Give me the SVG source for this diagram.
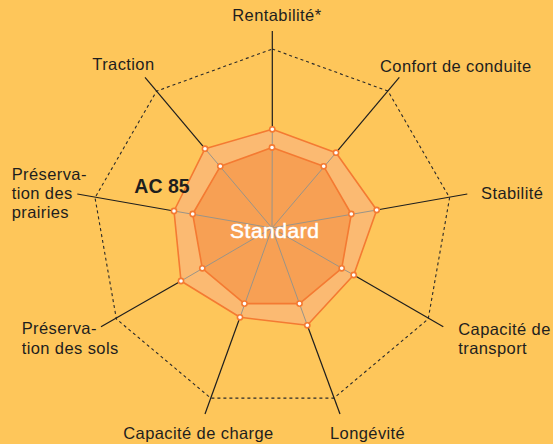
<svg xmlns="http://www.w3.org/2000/svg" width="553" height="444" viewBox="0 0 553 444">
<style>
.lbl{font-family:"Liberation Sans",Arial,sans-serif;font-size:16.5px;letter-spacing:0.4px;fill:#1e1e1e}
.dash{fill:none;stroke:#2a2a2a;stroke-width:1.1;stroke-dasharray:3 3}
.lead{stroke:#1e1e1e;stroke-width:1.2;fill:none}
.axis{stroke:#9a9488;stroke-width:1;fill:none}
.dot{fill:#ffffff;stroke:#f47a32;stroke-width:1.6}
</style>
<rect width="553" height="444" fill="#fec65a"/>
<g id="grid">
<polygon class="dash" points="272.3,49 388,91.1 449.6,197.7 428.2,319 333.9,398.1 210.7,398.1 116.4,319 95,197.7 156.6,91.1"/>
</g>
<g id="series-ac85">
<polygon fill="#fbba72" stroke="#f47a32" stroke-width="1.6" stroke-linejoin="round" points="272.3,129.3 336,152.7 376.7,210 353.7,275 307.3,325.3 240,317.3 181,281 174,211 205,148.7"/>
</g>
<g id="series-standard">
<polygon fill="#f7a054" stroke="#f47a32" stroke-width="1.6" stroke-linejoin="round" points="272,147.5 323.7,166.3 351.3,214 341.7,268.3 299.5,303.6 244.5,303.6 202.3,268.3 192.7,214 220.3,166.3"/>
</g>
<g id="connectors">
<g class="axis">
<line x1="272" y1="228" x2="272.3" y2="129.3"/>
<line x1="272" y1="228" x2="336" y2="152.7"/>
<line x1="272" y1="228" x2="376.7" y2="210"/>
<line x1="272" y1="228" x2="353.7" y2="275"/>
<line x1="272" y1="228" x2="307.3" y2="325.3"/>
<line x1="272" y1="228" x2="240" y2="317.3"/>
<line x1="272" y1="228" x2="181" y2="281"/>
<line x1="272" y1="228" x2="174" y2="211"/>
<line x1="272" y1="228" x2="205" y2="148.7"/>
</g>
<g class="lead">
<line x1="272.3" y1="129.3" x2="272.3" y2="31"/>
<line x1="336" y1="152.7" x2="399.3" y2="77.3"/>
<line x1="376.7" y1="210" x2="467.3" y2="194"/>
<line x1="353.7" y1="275" x2="443.3" y2="326.7"/>
<line x1="307.3" y1="325.3" x2="340" y2="414"/>
<line x1="240" y1="317.3" x2="205" y2="414"/>
<line x1="181" y1="281" x2="101" y2="326.7"/>
<line x1="174" y1="211" x2="77.3" y2="194"/>
<line x1="205" y1="148.7" x2="145" y2="77.3"/>
</g>
</g>
<g id="points-ac85">
<circle class="dot" cx="272.3" cy="129.3" r="2.6"/>
<circle class="dot" cx="336" cy="152.7" r="2.6"/>
<circle class="dot" cx="376.7" cy="210" r="2.6"/>
<circle class="dot" cx="353.7" cy="275" r="2.6"/>
<circle class="dot" cx="307.3" cy="325.3" r="2.6"/>
<circle class="dot" cx="240" cy="317.3" r="2.6"/>
<circle class="dot" cx="181" cy="281" r="2.6"/>
<circle class="dot" cx="174" cy="211" r="2.6"/>
<circle class="dot" cx="205" cy="148.7" r="2.6"/>
</g>
<g id="points-standard">
<circle class="dot" cx="272" cy="147.5" r="2.6"/>
<circle class="dot" cx="323.7" cy="166.3" r="2.6"/>
<circle class="dot" cx="351.3" cy="214" r="2.6"/>
<circle class="dot" cx="341.7" cy="268.3" r="2.6"/>
<circle class="dot" cx="299.5" cy="303.6" r="2.6"/>
<circle class="dot" cx="244.5" cy="303.6" r="2.6"/>
<circle class="dot" cx="202.3" cy="268.3" r="2.6"/>
<circle class="dot" cx="192.7" cy="214" r="2.6"/>
<circle class="dot" cx="220.3" cy="166.3" r="2.6"/>
</g>
<g id="labels">
<text class="lbl" x="232.3" y="21">Rentabilité*</text>
<text class="lbl" x="380" y="71.5">Confort de conduite</text>
<text class="lbl" x="481" y="199">Stabilité</text>
<text class="lbl" x="458.3" y="335">Capacité de</text>
<text class="lbl" x="458.3" y="354">transport</text>
<text class="lbl" x="330" y="439">Longévité</text>
<text class="lbl" x="123.3" y="439">Capacité de charge</text>
<text class="lbl" x="21.7" y="334.3">Préserva-</text>
<text class="lbl" x="21.7" y="354">tion des sols</text>
<text class="lbl" x="11.7" y="179.5">Préserva-</text>
<text class="lbl" x="11.7" y="198.5">tion des</text>
<text class="lbl" x="11.7" y="217.5">prairies</text>
<text class="lbl" x="92.3" y="70">Traction</text>
</g>
<g id="series-names">
<text x="134.3" y="193.3" font-family="'Liberation Sans',Arial,sans-serif" font-size="19.5" font-weight="bold" fill="#1e1e1e">AC 85</text>
<text x="274.7" y="237.7" text-anchor="middle" font-family="'Liberation Sans',Arial,sans-serif" font-size="21" letter-spacing="0.5" fill="#ffffff" stroke="#ffffff" stroke-width="0.5">Standard</text>
</g>
</svg>
